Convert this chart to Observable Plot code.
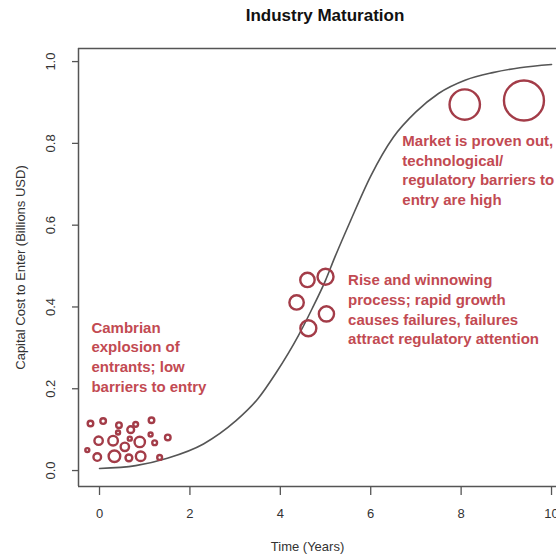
<!DOCTYPE html>
<html>
<head>
<meta charset="utf-8">
<script src="https://cdn.jsdelivr.net/npm/d3@7"></script>
<script src="https://cdn.jsdelivr.net/npm/@observablehq/plot@0.6"></script>
<style>
  html, body { margin: 0; padding: 0; background: #fff; }
  #chart svg { display: block; }
</style>
</head>
<body>
<div id="chart"></div>
<script>
const titleText = "Industry Maturation";
const xLabel = "Time (Years)";
const yLabel = "Capital Cost to Enter (Billions USD)";
const xTicks = [0, 2, 4, 6, 8, 10];
const yTicks = [0, 0.2, 0.4, 0.6, 0.8, 1.0];
const xDomain = [-0.465, 10.11];
const yDomain = [-0.039, 1.032];

// Maturation curve
const curveX = [0, 0.8, 1.5, 2.3, 3.0, 3.5, 3.9, 4.4, 4.7, 5.0, 5.2, 5.55, 6.0, 6.5, 7.0, 7.5, 8.1, 8.7, 9.3, 10];
const curveY = [0.005, 0.012, 0.03, 0.065, 0.12, 0.175, 0.238, 0.33, 0.395, 0.465, 0.52, 0.61, 0.72, 0.815, 0.877, 0.922, 0.955, 0.973, 0.985, 0.993];

// Firms (circles): time, capital cost, relative size
const circleX = [-0.2, 0.08, 0.43, 0.8, 1.15, 0.69, 0.41, -0.02, 0.3, 0.67, 0.89, 0.56, 1.13, 1.22, 1.51, -0.27, -0.05, 0.33, 0.65, 0.91, 1.33,
                 4.6, 5.0, 4.36, 5.02, 4.62,
                 8.08, 9.39];
const circleY = [0.115, 0.121, 0.111, 0.113, 0.123, 0.100, 0.093, 0.073, 0.073, 0.078, 0.070, 0.058, 0.088, 0.068, 0.081, 0.050, 0.033, 0.035, 0.031, 0.035, 0.032,
                 0.466, 0.474, 0.411, 0.383, 0.348,
                 0.895, 0.905];
const circleSize = [0.14, 0.14, 0.14, 0.12, 0.14, 0.17, 0.10, 0.21, 0.24, 0.10, 0.26, 0.21, 0.10, 0.12, 0.14, 0.10, 0.19, 0.29, 0.17, 0.24, 0.12,
                    0.36, 0.40, 0.36, 0.38, 0.40,
                    0.76, 1.0];

// Annotations
const noteText = [
  "Cambrian\nexplosion of\nentrants; low\nbarriers to entry",
  "Rise and winnowing\nprocess; rapid growth\ncauses failures, failures\nattract regulatory attention",
  "Market is proven out,\ntechnological/\nregulatory barriers to\nentry are high"
];
const noteX = [-0.18, 5.5, 6.7];
const noteY = [0.371, 0.487, 0.828];

const curve = curveX.map((x, i) => ({x, y: curveY[i]}));
const circles = circleX.map((x, i) => ({x, y: circleY[i], s: circleSize[i]}));
const notes = noteText.map((t, i) => ({t, x: noteX[i], y: noteY[i]}));

const red = "#c24a52";
const ring = "#a33c48";
const ink = "#333";

const chart = Plot.plot({
  width: 556,
  height: 555,
  marginLeft: 78,
  marginRight: 0,
  marginTop: 48,
  marginBottom: 69,
  style: {fontFamily: "'Liberation Sans', Arial, Helvetica, sans-serif", fontSize: "13px", color: ink, background: "#fff"},
  x: {domain: xDomain},
  y: {domain: yDomain},
  r: {type: "linear", domain: [0, 1], range: [0, 20]},
  marks: [
    Plot.axisX({ticks: xTicks, tickSize: 9, tickPadding: 13, fontSize: 13, label: null, stroke: "#555", strokeWidth: 1.3}),
    Plot.axisY({ticks: yTicks, tickSize: 6, tickPadding: 22, tickRotate: -90, textAnchor: "middle", lineAnchor: "middle",
                tickFormat: d3.format(".1f"), fontSize: 13, label: null, stroke: "#555", strokeWidth: 1.3}),
    Plot.ruleY([yDomain[0], yDomain[1]], {stroke: "#555", strokeWidth: 1.5}),
    Plot.ruleX([xDomain[0]], {stroke: "#555", strokeWidth: 1.5}),
    Plot.line(curve, {x: "x", y: "y", curve: "monotone-x", stroke: "#555", strokeWidth: 1.6}),
    Plot.dot(circles, {x: "x", y: "y", r: "s", stroke: ring, strokeWidth: 2.4, fill: "none"}),
    Plot.text(notes, {x: "x", y: "y", text: "t", textAnchor: "start", lineAnchor: "top", fontSize: 15,
                      fontWeight: "bold", fill: red, lineHeight: 1.31}),
    Plot.text([titleText], {frameAnchor: "top", dx: 7.5, dy: -33, fontSize: 17, fontWeight: "bold", fill: "#111", lineAnchor: "middle"}),
    Plot.text([xLabel], {frameAnchor: "bottom", dx: -10, dy: 60, fontSize: 13, fill: ink, lineAnchor: "middle"}),
    Plot.text([yLabel], {frameAnchor: "left", dx: -58, rotate: -90, fontSize: 13, fill: ink, lineAnchor: "middle", textAnchor: "middle"})
  ]
});

document.getElementById("chart").appendChild(chart);
</script>
</body>
</html>
